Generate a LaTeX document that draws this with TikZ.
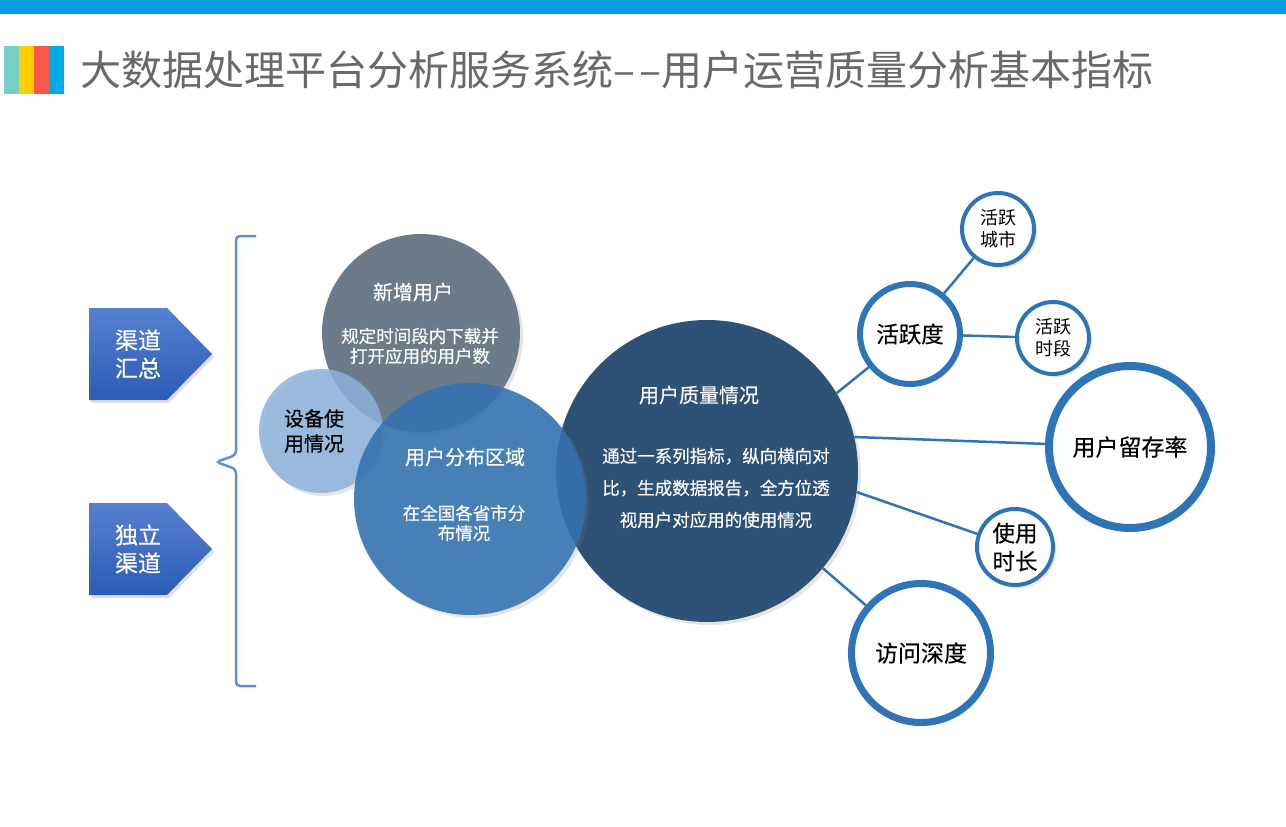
\documentclass[tikz,border=0pt]{standalone}
\usepackage{fontspec}
\newfontfamily\cjk{Noto Sans CJK SC}
\newfontfamily\cjkb{Noto Sans CJK SC}[FakeBold=0.4]
\usetikzlibrary{shadows}

\definecolor{topbar}{RGB}{0,160,227}
\definecolor{logoA}{RGB}{118,206,196}
\definecolor{logoB}{RGB}{255,206,0}
\definecolor{logoC}{RGB}{250,88,72}
\definecolor{logoD}{RGB}{0,172,228}
\definecolor{titlegray}{RGB}{105,105,105}
\definecolor{arrowtop}{RGB}{88,128,208}
\definecolor{arrowbot}{RGB}{42,92,182}
\definecolor{bracecol}{RGB}{88,148,212}
\definecolor{slate}{RGB}{108,123,138}
\definecolor{lightblue}{RGB}{140,178,220}
\definecolor{midblue}{RGB}{50,113,177}
\definecolor{deepblue}{RGB}{46,81,118}
\definecolor{ringblue}{RGB}{46,117,184}

\tikzset{
    bubble/.style={circle, draw=none, inner sep=0pt,
        drop shadow={opacity=.2, shadow xshift=3pt, shadow yshift=-3pt}},
    ring/.style={circle, draw=ringblue, fill=white, inner sep=0pt, align=center, text=black,
        drop shadow={opacity=.2, shadow xshift=3pt, shadow yshift=-3pt}},
    head/.style={font=\cjkb\fontsize{20}{25}\selectfont, align=center},
    body/.style={font=\cjkb\fontsize{17.5}{20}\selectfont, align=center},
    link/.style={draw=ringblue, line width=2.5pt},
    brace/.style={draw=bracecol, line width=2.5pt, rounded corners=4pt},
}

\begin{document}
\begin{tikzpicture}[x=1pt,y=-1pt]
    \useasboundingbox[fill=white] (0,0) rectangle (1286,827);

    % title bar
    \fill[topbar] (0,0) rectangle (1286,14);
    \foreach \c [count=\i] in {logoA,logoB,logoC,logoD}
        \fill[\c] ({4+15*(\i-1)},46) rectangle ({19+15*(\i-1)},94);
    \node[anchor=west, inner sep=0pt, text=titlegray, font=\cjk\fontsize{41}{48}\selectfont] (title) at (80,70)
        {大数据处理平台分析服务系统–\kern4pt–用户运营质量分析基本指标};

    % channels
    \foreach \y/\a/\b/\n in {354/渠道/汇总/chsum, 549/独立/渠道/chown} {
        \shade[top color=arrowtop, bottom color=arrowbot,
            drop shadow={opacity=.25, shadow xshift=2pt, shadow yshift=-3pt}]
            (89,\y-46) -- (167,\y-46) -- (212,\y) -- (167,\y+46) -- (89,\y+46) -- cycle;
        \node[text=white, align=center, font=\cjkb\fontsize{23}{28}\selectfont] (\n) at (138,\y) {\a\\\b};
    }
    \draw[brace] (256,236) -- (236,236) -- (236,455) -- (216,462) -- (236,469) -- (236,686) -- (256,686);

    % bubbles
    \node[bubble, fill=deepblue, minimum size=302pt] (uq) at (707,471) {};
    \node[bubble, fill=slate, minimum size=198pt] (newuser) at (421,333) {};
    \node[bubble, fill=lightblue, fill opacity=.85, minimum size=124pt] (device) at (321,431) {};
    \node[bubble, fill=midblue, fill opacity=.88, minimum size=232pt] (region) at (470,499) {};

    \node[head, text=white] (newuserhead) at (413,292) {新增用户};
    \node[body, text=white] (newuserbody) at (420,346) {规定时间段内下载并\\打开应用的用户数};
    \node[head, text=black] (devicehead) at (314,431) {设备使\\用情况};
    \node[head, text=white] (regionhead) at (465,457) {用户分布区域};
    \node[body, text=white] (regionbody) at (464,523) {在全国各省市分\\布情况};
    \node[head, text=white] (uqhead) at (699,395) {用户质量情况};
    \node[body, text=white, font=\cjkb\fontsize{17.5}{32}\selectfont] (uqbody) at (716,488)
        {通过一系列指标，纵向横向对\\比，生成数据报告，全方位透\\视用户对应用的使用情况};

    % indicators
    \node[ring, line width=6pt, minimum size=100pt, font=\cjkb\fontsize{22.5}{27}\selectfont] (active) at (910,334) {活跃度};
    \node[ring, line width=4pt, minimum size=72pt, font=\cjk\fontsize{18}{22}\selectfont] (city) at (998,229) {活跃\\城市};
    \node[ring, line width=4pt, minimum size=72pt, font=\cjk\fontsize{18}{22}\selectfont] (period) at (1053,338) {活跃\\时段};
    \node[ring, line width=8pt, minimum size=162pt, font=\cjkb\fontsize{23}{28}\selectfont] (retain) at (1130,447) {用户留存率};
    \node[ring, line width=4pt, minimum size=76pt, font=\cjkb\fontsize{22.5}{28}\selectfont] (usetime) at (1015,547) {使用\\时长};
    \node[ring, line width=7pt, minimum size=139pt, font=\cjkb\fontsize{23}{28}\selectfont] (depth) at (921,653) {访问深度};

    \draw[link] (uq.31) -- (active);
    \draw[link] (uq.13) -- (retain);
    \draw[link] (uq.-8) -- (usetime);
    \draw[link] (uq.-40) -- (depth);
    \draw[link] (active) -- (city);
    \draw[link] (active) -- (period);
\end{tikzpicture}
\end{document}
